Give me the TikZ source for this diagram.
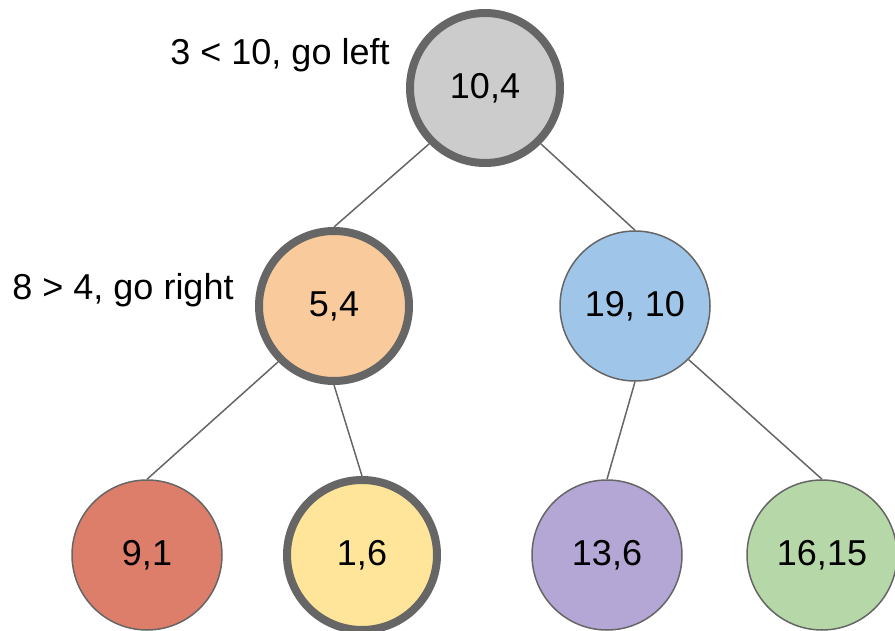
\documentclass[tikz,border=0pt]{standalone}
\usepackage{xcolor}
\usepackage{tikz}
\usepackage{fontspec}
\setmainfont{Liberation Sans}
\usetikzlibrary{calc, positioning}

\definecolor{edgegray}{HTML}{666666}
\definecolor{rootfill}{HTML}{CCCCCC}
\definecolor{orangefill}{HTML}{F9CB9C}
\definecolor{bluefill}{HTML}{9FC5E8}
\definecolor{redfill}{HTML}{DD7E6B}
\definecolor{yellowfill}{HTML}{FFE599}
\definecolor{purplefill}{HTML}{B4A7D6}
\definecolor{greenfill}{HTML}{B6D7A8}

\begin{document}
\begin{tikzpicture}[x=1pt,y=-1pt,-,
                    main node/.style={circle,draw=edgegray,line width=1.5pt,minimum size=150pt,inner sep=0pt,font=\fontsize{36}{43}\selectfont},
                    path node/.style={main node,line width=8pt},
                    note/.style={font=\fontsize{36}{43}\selectfont,inner sep=0pt}]

  \useasboundingbox (0,0) rectangle (895,631);

  \node[path node,fill=rootfill] (1) at (485,88) {10,4};
  \node[path node,fill=orangefill] (2) [shift={(-151,218)}] at (1) {5,4};
  \node[main node,fill=bluefill] (3) [shift={(150,218)}] at (1) {19, 10};
  \node[main node,fill=redfill] (4) [shift={(-187,249)}] at (2) {9,1};
  \node[path node,fill=yellowfill] (5) [shift={(28,249)}] at (2) {1,6};
  \node[main node,fill=purplefill] (6) [shift={(-28,249)}] at (3) {13,6};
  \node[main node,fill=greenfill] (7) [shift={(187,249)}] at (3) {16,15};

  \node[note] (q1) at (280,55) {3 < 10, go left};
  \node[note] (q2) at (123,290) {8 > 4, go right};

  \path[draw=edgegray,line width=1.5pt]
  (1.225) edge (2.north)
  (1.-45) edge (3.north)
  (2.225) edge (4.north)
  (2.south) edge (5.north)
  (3.south) edge (6.north)
  (3.-45) edge (7.north);

\end{tikzpicture}
\end{document}
